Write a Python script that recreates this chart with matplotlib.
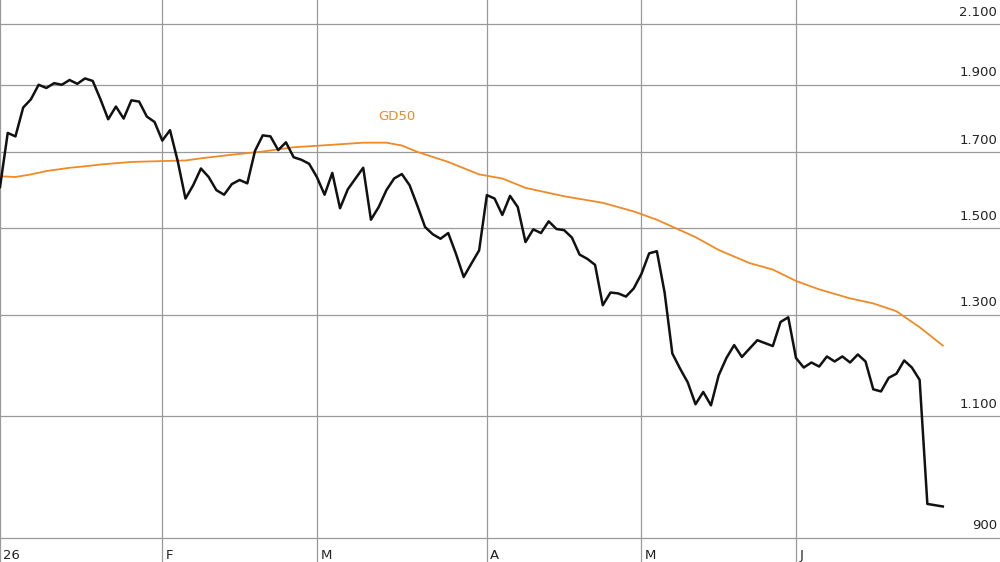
import matplotlib
matplotlib.use('Agg')
import matplotlib.pyplot as plt
import numpy as np

# closing prices, one per trading day (Jan 2 .. late June)
kurs = [1605, 1755, 1745, 1830, 1855, 1900, 1890, 1905, 1900, 1915,
        1903, 1920, 1912, 1855, 1795, 1833, 1797, 1852, 1848, 1803,
        1787, 1733, 1763, 1675, 1575, 1610, 1655, 1632, 1597, 1585,
        1613, 1624, 1615, 1704, 1748, 1745, 1706, 1728, 1686, 1679,
        1668, 1632, 1585, 1643, 1550, 1599, 1628, 1657, 1521, 1553,
        1597, 1628, 1640, 1610, 1557, 1503, 1485, 1474, 1488, 1438,
        1384, 1415, 1446, 1584, 1575, 1533, 1582, 1553, 1466, 1497,
        1488, 1517, 1498, 1495, 1477, 1436, 1426, 1412, 1321, 1349,
        1347, 1340, 1358, 1391, 1439, 1444, 1349, 1220, 1190, 1163,
        1122, 1145, 1120, 1177, 1211, 1237, 1213, 1230, 1247, 1241,
        1235, 1285, 1295, 1211, 1192, 1202, 1194, 1214, 1204, 1214,
        1202, 1218, 1204, 1150, 1146, 1172, 1180, 1206, 1192, 1168,
        952, 950, 948]

# 50-day moving average (read at selected trading days)
gd50_tag = [0, 2, 4, 6, 9, 11, 13, 17, 22, 24, 26, 30, 34, 38, 43, 47, 50,
            52, 54, 58, 62, 65, 68, 73, 78, 82, 85, 90, 93, 97, 100, 103,
            106, 110, 113, 116, 119, 122]
gd50 = [1634, 1632, 1639, 1648, 1657, 1661, 1666, 1673, 1676, 1677, 1683,
        1693, 1702, 1714, 1721, 1727, 1727, 1719, 1701, 1673, 1639, 1628,
        1603, 1581, 1564, 1542, 1521, 1478, 1447, 1416, 1401, 1375,
        1356, 1336, 1325, 1308, 1274, 1236]

# month starts as trading-day index
monat_tag = [0, 21, 41, 63, 83, 103]
monat_label = ['26', 'F', 'M', 'A', 'M', 'J']
y_ticks = [900, 1100, 1300, 1500, 1700, 1900, 2100]
y_labels = ['900', '1.100', '1.300', '1.500', '1.700', '1.900', '2.100']

plt.rcParams['font.family'] = ['DejaVu Sans']

fig = plt.figure(figsize=(10, 5.62), dpi=100)
ax = fig.add_axes([0, 24 / 562, 1, 538 / 562])
ax.set_yscale('log')
ax.set_ylim(900, 2185)
ax.set_xlim(0, 129.4)
for s in ax.spines.values():
    s.set_visible(False)
ax.set_xticks([])
ax.set_yticks([])
ax.minorticks_off()

grid_col = '#9a9a9a'
for v in y_ticks:
    ax.axhline(v, color=grid_col, lw=0.9, zorder=1, clip_on=False)
for t in monat_tag:
    ax.axvline(t, ymin=-24 / 538, ymax=1, color=grid_col, lw=0.9, zorder=1, clip_on=False)

ax.plot(gd50_tag, gd50, color='#ef8a24', lw=1.3, zorder=3)
ax.plot(range(len(kurs)), kurs, color='#111111', lw=1.8, zorder=4, clip_on=False)

ax.text(48.9, 1803, 'GD50', color='#ef8a24', fontsize=9.5, va='center', ha='left')

for v, lab in zip(y_ticks, y_labels):
    ax.annotate(lab, xy=(1, v), xycoords=('axes fraction', 'data'),
                xytext=(-2, 4), textcoords='offset points',
                ha='right', va='bottom', fontsize=9.5, color='#222222')

for t, lab in zip(monat_tag, monat_label):
    ax.annotate(lab, xy=(t, 0), xycoords=('data', 'axes fraction'),
                xytext=(2.5, -8), textcoords='offset points',
                ha='left', va='top', fontsize=9.5, color='#222222', annotation_clip=False)

plt.savefig('out.png', dpi=100)
